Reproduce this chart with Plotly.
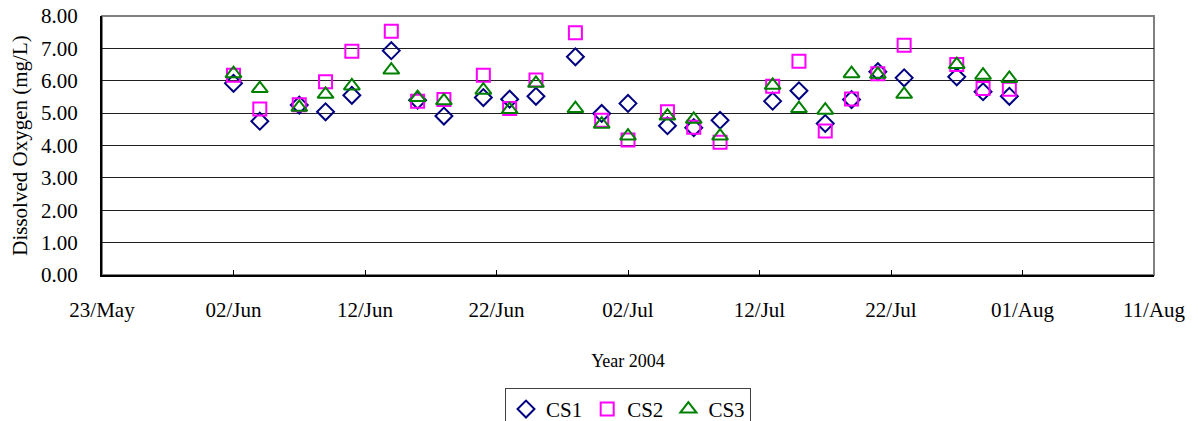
import plotly.graph_objects as go

dates = ["2004-06-02", "2004-06-04", "2004-06-07", "2004-06-09", "2004-06-11", "2004-06-14",
         "2004-06-16", "2004-06-18", "2004-06-21", "2004-06-23", "2004-06-25", "2004-06-28",
         "2004-06-30", "2004-07-02", "2004-07-05", "2004-07-07", "2004-07-09", "2004-07-13",
         "2004-07-15", "2004-07-17", "2004-07-19", "2004-07-21", "2004-07-23", "2004-07-27",
         "2004-07-29", "2004-07-31"]

cs1 = [5.92, 4.75, 5.25, 5.04, 5.55, 6.93, 5.40, 4.91, 5.48, 5.43, 5.52, 6.74, 4.99,
       5.30, 4.61, 4.55, 4.78, 5.37, 5.69, 4.68, 5.42, 6.28, 6.09, 6.12, 5.66, 5.52]
cs2 = [6.17, 5.13, 5.26, 5.97, 6.91, 7.53, 5.37, 5.42, 6.17, 5.14, 6.02, 7.48, 4.78,
       4.17, 5.04, 4.56, 4.10, 5.83, 6.60, 4.45, 5.44, 6.22, 7.10, 6.50, 5.76, 5.74]
cs3 = [6.22, 5.76, 5.18, 5.58, 5.84, 6.33, 5.48, 5.38, 5.71, 5.11, 5.92, 5.14, 4.66,
       4.29, 4.91, 4.81, 4.29, 5.86, 5.14, 5.09, 6.22, 6.20, 5.58, 6.50, 6.17, 6.07]

FONT = "Liberation Serif, serif"

fig = go.Figure()
fig.add_trace(go.Scatter(x=dates, y=cs1, mode="markers", name="CS1",
                         marker=dict(symbol="diamond-open", size=13, color="#000080",
                                     line=dict(width=2, color="#000080"))))
fig.add_trace(go.Scatter(x=dates, y=cs2, mode="markers", name="CS2",
                         marker=dict(symbol="square-open", size=13, color="#FF00FF",
                                     line=dict(width=2, color="#FF00FF"))))
fig.add_trace(go.Scatter(x=dates, y=cs3, mode="markers", name="CS3",
                         marker=dict(symbol="triangle-up-open", size=14, color="#008000",
                                     line=dict(width=2, color="#008000"))))

# gray plot-area border (top/right)
fig.add_shape(type="rect", xref="x domain", yref="y domain", x0=0, x1=1, y0=0, y1=1,
              line=dict(color="#808080", width=2), layer="below")

fig.update_layout(
    width=1200, height=421,
    margin=dict(l=102, r=46, t=16, b=146, autoexpand=False),
    paper_bgcolor="white", plot_bgcolor="white",
    font=dict(family=FONT, size=21, color="black"),
    showlegend=True,
    legend=dict(orientation="h", x=0.5, xanchor="center", y=-0.436, yanchor="top",
                bordercolor="#404040", borderwidth=1, bgcolor="white",
                font=dict(family=FONT, size=21), itemwidth=30, tracegroupgap=0),
)

fig.update_xaxes(
    type="date", automargin=False,
    range=["2004-05-23", "2004-08-11"],
    tick0="2004-05-23", dtick=10 * 86400000,
    tickformat="%d/%b",
    ticks="inside", ticklen=5, tickcolor="black",
    ticklabelstandoff=15,
    showgrid=False, zeroline=False,
    showline=True, linecolor="black", linewidth=2,
    tickfont=dict(family=FONT, size=21),
    title=dict(text="Year 2004", font=dict(family=FONT, size=18), standoff=33),
)

fig.update_yaxes(
    automargin=False,
    range=[0, 8], dtick=1, tickformat=".2f",
    showgrid=True, gridcolor="#202020", gridwidth=1,
    zeroline=False, showline=True, linecolor="black", linewidth=2,
    ticks="", ticklabelstandoff=18,
    tickfont=dict(family=FONT, size=21),
    title=dict(text="Dissolved Oxygen (mg/L)", font=dict(family=FONT, size=21), standoff=8),
)

fig.write_html("out.html",
               config={"displayModeBar": False},
               post_script="document.body.style.margin='0';document.documentElement.style.margin='0';")
